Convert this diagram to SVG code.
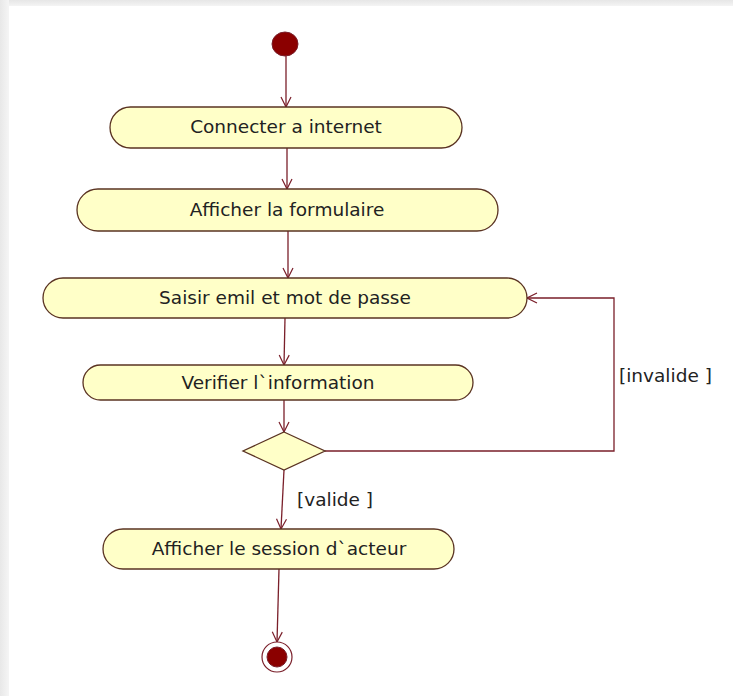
<svg xmlns="http://www.w3.org/2000/svg" width="733" height="696" viewBox="0 0 733 696">
  <defs>
    <linearGradient id="topShade" x1="0" y1="0" x2="0" y2="1">
      <stop offset="0" stop-color="#e6e6e6"/>
      <stop offset="1" stop-color="#f4f4f4"/>
    </linearGradient>
    <linearGradient id="leftShade" x1="0" y1="0" x2="1" y2="0">
      <stop offset="0" stop-color="#e8e8e8"/>
      <stop offset="1" stop-color="#f5f5f5"/>
    </linearGradient>
    <marker id="arr" viewBox="0 0 12 12" refX="11" refY="6" markerWidth="12" markerHeight="12" markerUnits="userSpaceOnUse" orient="auto">
      <path d="M1,1 L11,6 L1,11" fill="none" stroke="#7a1f2a" stroke-width="1.2"/>
    </marker>
  </defs>
  <style>
    .act { fill: #ffffc8; stroke: #5a3322; stroke-width: 1.3; }
    .lbl { font-family: "DejaVu Sans", Verdana, sans-serif; font-size: 18.5px; fill: #222222; text-anchor: middle; }
    .guard { font-family: "DejaVu Sans", Verdana, sans-serif; font-size: 18.5px; fill: #222222; }
    .edge { fill: none; stroke: #7a1f2a; stroke-width: 1.3; marker-end: url(#arr); }
    .dot { fill: #8b0000; stroke: #7a1f2a; stroke-width: 1; }
  </style>
  <rect x="0" y="0" width="733" height="696" fill="#ffffff"/>
  <rect x="0" y="0" width="733" height="6" fill="url(#topShade)"/>
  <rect x="0" y="0" width="9" height="696" fill="url(#leftShade)"/>

  <g id="connectors">
    <path class="edge" d="M286,56 L286,107"/>
    <path class="edge" d="M287,148 L287,189"/>
    <path class="edge" d="M288,231 L288,278"/>
    <path class="edge" d="M285,318 L284,365"/>
    <path class="edge" d="M284,400 L284,432"/>
    <path class="edge" d="M325,451 L614,451 L614,298 L527,298"/>
    <path class="edge" d="M284,470 L281,529"/>
    <path class="edge" d="M279,569 L277,642"/>
    <text class="guard" x="619" y="382">[invalide ]</text>
    <text class="guard" x="297" y="506">[valide ]</text>
  </g>

  <g id="start">
    <ellipse class="dot" cx="285" cy="44" rx="13" ry="12"/>
  </g>

  <g id="connecter">
    <rect class="act" x="110" y="107" width="352" height="41" rx="20.5" ry="20.5"/>
    <text class="lbl" x="286" y="133">Connecter a internet</text>
  </g>

  <g id="afficher-formulaire">
    <rect class="act" x="77" y="189" width="421" height="42" rx="21" ry="21"/>
    <text class="lbl" x="287" y="216">Afficher la formulaire</text>
  </g>

  <g id="saisir">
    <rect class="act" x="43" y="278" width="484" height="40" rx="20" ry="20"/>
    <text class="lbl" x="285" y="304">Saisir emil et mot de passe</text>
  </g>

  <g id="verifier">
    <rect class="act" x="83" y="365" width="390" height="35" rx="17.5" ry="17.5"/>
    <text class="lbl" x="278" y="389">Verifier l`information</text>
  </g>

  <g id="decision">
    <polygon class="act" points="284,432 325,451 284,470 243,451"/>
  </g>

  <g id="afficher-session">
    <rect class="act" x="103" y="529" width="351" height="40" rx="20" ry="20"/>
    <text class="lbl" x="279" y="555">Afficher le session d`acteur</text>
  </g>

  <g id="end">
    <circle cx="277" cy="657" r="15" fill="#ffffff" stroke="#7a1f2a" stroke-width="1.2"/>
    <circle class="dot" cx="277" cy="657" r="10"/>
  </g>
</svg>
